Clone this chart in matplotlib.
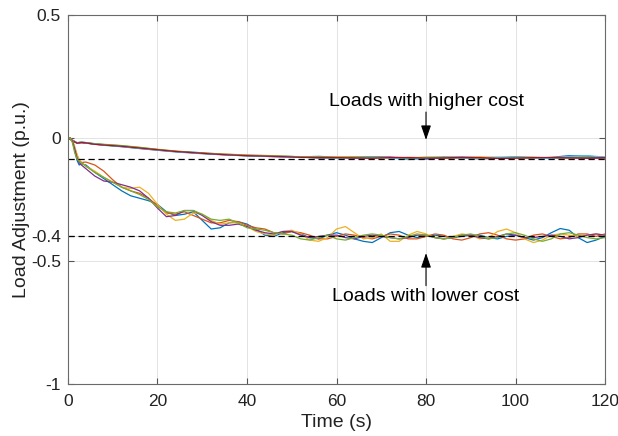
import numpy as np
import matplotlib.pyplot as plt
from matplotlib.patches import FancyArrowPatch

plt.rcParams['font.family'] = ['Liberation Sans', 'DejaVu Sans']

# time grid for the lower-cost loads
t_low = [0, 0.5, 1, 1.5, 2, 2.5, 3] + list(range(4, 121, 2))

low_blue = [0, 0, -0.015, -0.05, -0.09, -0.11, -0.105, -0.11, -0.14, -0.165, -0.19, -0.215, -0.235,
            -0.245, -0.255, -0.27, -0.3, -0.315, -0.31, -0.3, -0.335, -0.37, -0.365, -0.345, -0.34,
            -0.35, -0.37, -0.395, -0.4, -0.385, -0.38, -0.39, -0.405, -0.41, -0.395, -0.385, -0.395,
            -0.41, -0.42, -0.425, -0.405, -0.385, -0.38, -0.395, -0.405, -0.4, -0.395, -0.4, -0.405,
            -0.4, -0.395, -0.395, -0.405, -0.41, -0.4, -0.395, -0.405, -0.415, -0.405, -0.385, -0.368,
            -0.375, -0.405, -0.425, -0.415, -0.4]
low_orange = [0, 0, -0.01, -0.04, -0.07, -0.09, -0.1, -0.098, -0.11, -0.135, -0.17, -0.2, -0.215,
              -0.225, -0.245, -0.275, -0.305, -0.31, -0.3, -0.315, -0.33, -0.345, -0.345, -0.335, -0.34,
              -0.355, -0.365, -0.37, -0.385, -0.39, -0.38, -0.385, -0.395, -0.41, -0.41, -0.4, -0.39,
              -0.395, -0.405, -0.41, -0.4, -0.39, -0.395, -0.41, -0.41, -0.4, -0.39, -0.395, -0.41,
              -0.415, -0.405, -0.39, -0.385, -0.395, -0.41, -0.415, -0.41, -0.395, -0.39, -0.4, -0.41,
              -0.405, -0.39, -0.39, -0.4, -0.39]
low_yellow = [0, 0, -0.01, -0.035, -0.065, -0.09, -0.1, -0.115, -0.135, -0.16, -0.18, -0.2, -0.205,
              -0.2, -0.225, -0.27, -0.31, -0.335, -0.33, -0.305, -0.31, -0.335, -0.35, -0.345, -0.345,
              -0.36, -0.38, -0.39, -0.395, -0.38, -0.375, -0.39, -0.415, -0.42, -0.405, -0.37, -0.36,
              -0.385, -0.41, -0.405, -0.39, -0.42, -0.42, -0.395, -0.38, -0.39, -0.405, -0.41, -0.4,
              -0.39, -0.395, -0.41, -0.405, -0.38, -0.37, -0.385, -0.41, -0.425, -0.415, -0.395, -0.39,
              -0.395, -0.4, -0.395, -0.39, -0.395]
low_purple = [0, 0, -0.012, -0.045, -0.08, -0.1, -0.11, -0.125, -0.155, -0.175, -0.18, -0.19, -0.2,
              -0.215, -0.245, -0.285, -0.32, -0.315, -0.295, -0.295, -0.315, -0.34, -0.355, -0.355, -0.35,
              -0.36, -0.375, -0.385, -0.39, -0.38, -0.38, -0.395, -0.405, -0.4, -0.395, -0.395, -0.405,
              -0.41, -0.4, -0.395, -0.4, -0.405, -0.41, -0.405, -0.395, -0.395, -0.405, -0.41, -0.405,
              -0.395, -0.395, -0.405, -0.41, -0.4, -0.39, -0.395, -0.405, -0.405, -0.4, -0.395, -0.4,
              -0.41, -0.405, -0.395, -0.39, -0.395]
low_green = [0, 0, -0.02, -0.06, -0.085, -0.095, -0.1, -0.115, -0.14, -0.16, -0.18, -0.2, -0.215,
             -0.23, -0.25, -0.28, -0.3, -0.305, -0.295, -0.295, -0.31, -0.33, -0.335, -0.33, -0.345,
             -0.365, -0.37, -0.375, -0.385, -0.39, -0.395, -0.41, -0.415, -0.405, -0.395, -0.41, -0.415,
             -0.405, -0.395, -0.39, -0.395, -0.405, -0.41, -0.4, -0.39, -0.395, -0.405, -0.41, -0.405,
             -0.395, -0.39, -0.4, -0.41, -0.405, -0.39, -0.385, -0.395, -0.41, -0.42, -0.41, -0.39,
             -0.385, -0.395, -0.405, -0.41, -0.405]

# time grid for the higher-cost loads
t_high = [0, 1, 2, 3, 4, 6, 8] + list(range(12, 121, 4))

high_blue = [0, -0.01, -0.02, -0.017, -0.019, -0.024, -0.027, -0.032, -0.04, -0.047, -0.054, -0.058,
             -0.063, -0.067, -0.07, -0.072, -0.074, -0.077, -0.075, -0.078, -0.08, -0.077, -0.079,
             -0.083, -0.086, -0.079, -0.078, -0.08, -0.081, -0.078, -0.08, -0.079, -0.072, -0.074, -0.079]
high_orange = [0, -0.011, -0.021, -0.019, -0.021, -0.026, -0.029, -0.035, -0.043, -0.05, -0.056, -0.061,
               -0.066, -0.069, -0.072, -0.074, -0.077, -0.078, -0.08, -0.081, -0.079, -0.082, -0.08,
               -0.079, -0.081, -0.083, -0.08, -0.079, -0.082, -0.081, -0.079, -0.081, -0.082, -0.08, -0.081]
high_yellow = [0, -0.009, -0.019, -0.018, -0.02, -0.025, -0.028, -0.033, -0.039, -0.046, -0.053, -0.059,
               -0.063, -0.066, -0.07, -0.071, -0.074, -0.077, -0.079, -0.077, -0.076, -0.079, -0.082,
               -0.08, -0.078, -0.08, -0.081, -0.077, -0.078, -0.082, -0.083, -0.079, -0.078, -0.08, -0.082]
high_purple = [0, -0.01, -0.021, -0.019, -0.021, -0.025, -0.028, -0.035, -0.042, -0.049, -0.055, -0.06,
               -0.065, -0.069, -0.073, -0.075, -0.076, -0.078, -0.081, -0.08, -0.082, -0.08, -0.078,
               -0.081, -0.083, -0.08, -0.081, -0.085, -0.083, -0.08, -0.081, -0.08, -0.079, -0.082, -0.081]
high_green = [0, -0.01, -0.02, -0.017, -0.019, -0.023, -0.026, -0.031, -0.038, -0.047, -0.055, -0.06,
              -0.064, -0.068, -0.071, -0.073, -0.075, -0.076, -0.077, -0.079, -0.078, -0.076, -0.08,
              -0.082, -0.079, -0.077, -0.08, -0.082, -0.08, -0.077, -0.079, -0.081, -0.08, -0.078, -0.079]
high_cyan = [0, -0.01, -0.02, -0.018, -0.02, -0.025, -0.03, -0.036, -0.043, -0.05, -0.057, -0.062,
             -0.066, -0.07, -0.073, -0.075, -0.078, -0.079, -0.08, -0.082, -0.08, -0.079, -0.081,
             -0.088, -0.082, -0.079, -0.08, -0.081, -0.079, -0.078, -0.081, -0.083, -0.075, -0.072, -0.078]
high_darkred = [0, -0.011, -0.021, -0.019, -0.02, -0.026, -0.029, -0.034, -0.041, -0.048, -0.055, -0.06,
                -0.065, -0.069, -0.072, -0.074, -0.076, -0.079, -0.08, -0.08, -0.081, -0.082, -0.08,
                -0.08, -0.082, -0.081, -0.079, -0.08, -0.083, -0.082, -0.08, -0.08, -0.081, -0.082, -0.08]

ref_high = -0.087
ref_low = -0.4
yticks = [-1, -0.5, -0.4, 0, 0.5]
ytick_labels = ['-1', '-0.5', '-0.4', '0', '0.5']
xticks = [0, 20, 40, 60, 80, 100, 120]

# matlab default colour order
C = ['#0072BD', '#D95319', '#EDB120', '#7E2F8E', '#77AC30', '#4DBEEE', '#A2142F']

fig = plt.figure(figsize=(6.18, 4.36), dpi=100)
ax = fig.add_axes([0.110, 0.119, 0.869, 0.847])

for i, y in enumerate([high_blue, high_orange, high_yellow, high_purple, high_green, high_cyan, high_darkred]):
    ax.plot(t_high, y, color=C[i], lw=0.9)
for i, y in enumerate([low_blue, low_orange, low_yellow, low_purple, low_green]):
    ax.plot(t_low, y, color=C[i], lw=0.9)

ax.plot([0, 120], [ref_high, ref_high], 'k--', lw=0.9, dashes=(5, 3))
ax.plot([0, 120], [ref_low, ref_low], 'k--', lw=0.9, dashes=(5, 3))

ax.set_xlim(0, 120)
ax.set_ylim(-1, 0.5)
ax.set_xticks(xticks)
ax.set_yticks(yticks)
ax.set_yticklabels(ytick_labels)
ax.grid(True, color='#e3e3e3', lw=0.7)
ax.set_axisbelow(True)
ax.tick_params(direction='in', top=True, right=True, length=4, labelsize=12.5, pad=5,
               color='#555555', labelcolor='#222222')
ax.tick_params(axis='x', pad=7)
for s in ax.spines.values():
    s.set_color('#6a6a6a')
    s.set_linewidth(0.8)

ax.set_xlabel('Time (s)', fontsize=14, color='#222222', labelpad=4)
ax.set_ylabel('Load Adjustment (p.u.)', fontsize=14, color='#222222', labelpad=1)

# annotations
ax.text(80, 0.146, 'Loads with higher cost', ha='center', va='center', fontsize=14)
ax.add_patch(FancyArrowPatch((80, 0.105), (80, -0.008), arrowstyle='-|>,head_length=5.5,head_width=1.9',
                             color='k', lw=0.8, mutation_scale=1.6, shrinkA=0, shrinkB=0))
ax.text(80, -0.646, 'Loads with lower cost', ha='center', va='center', fontsize=14)
ax.add_patch(FancyArrowPatch((80, -0.6), (80, -0.468), arrowstyle='-|>,head_length=5.5,head_width=1.9',
                             color='k', lw=0.8, mutation_scale=1.6, shrinkA=0, shrinkB=0))

fig.savefig('out.png', dpi=100)
